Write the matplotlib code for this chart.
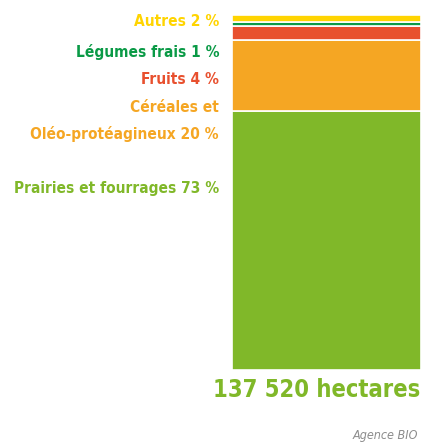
import numpy as np
import matplotlib
matplotlib.use("Agg")
import matplotlib.pyplot as plt

# surfaces bio par culture (%), du bas vers le haut
categories = ["Prairies et fourrages", "Céréales et\nOléo-protéagineux", "Fruits", "Légumes frais", "Autres"]
shares = [73, 20, 4, 1, 2]
colors = ["#80B829", "#F5A623", "#E8502E", "#0A9A46", "#FFD400"]
total_label = "137 520 hectares"
source = "Agence BIO"

W, H = 430, 443
fig = plt.figure(figsize=(W / 100, H / 100), dpi=100)
ax = fig.add_axes([232 / W, 1 - 370 / H, (421 - 232) / W, (370 - 15) / H])

bottom = 0
for val, col in zip(shares, colors):
    ax.bar(0, val, bottom=bottom, width=1.0, color=col, edgecolor="white", linewidth=1.2)
    bottom += val
ax.set_xlim(-0.5, 0.5)
ax.set_ylim(0, sum(shares))
ax.axis("off")

font = "DejaVu Sans"
# label positions in pixels (top-down), right aligned
label_y = [188, 121, 80, 52, 22]
for cat, val, col, y in zip(categories, shares, colors, label_y):
    fig.text(219 / W, 1 - y / H, f"{cat} {val} %", ha="right", va="center",
             color=col, fontsize=11.1, fontweight="bold", family=font,
             fontstretch="condensed", linespacing=1.8)

fig.text(317 / W, 1 - 390 / H, total_label, ha="center", va="center",
         color="#80B829", fontsize=17, fontweight="bold", family=font,
         fontstretch="condensed")
fig.text(418 / W, 1 - 436 / H, source, ha="right", va="center",
         color="#8C8C8C", fontsize=9, style="italic", family=font,
         fontstretch="condensed")

fig.savefig("out.png", dpi=100)
